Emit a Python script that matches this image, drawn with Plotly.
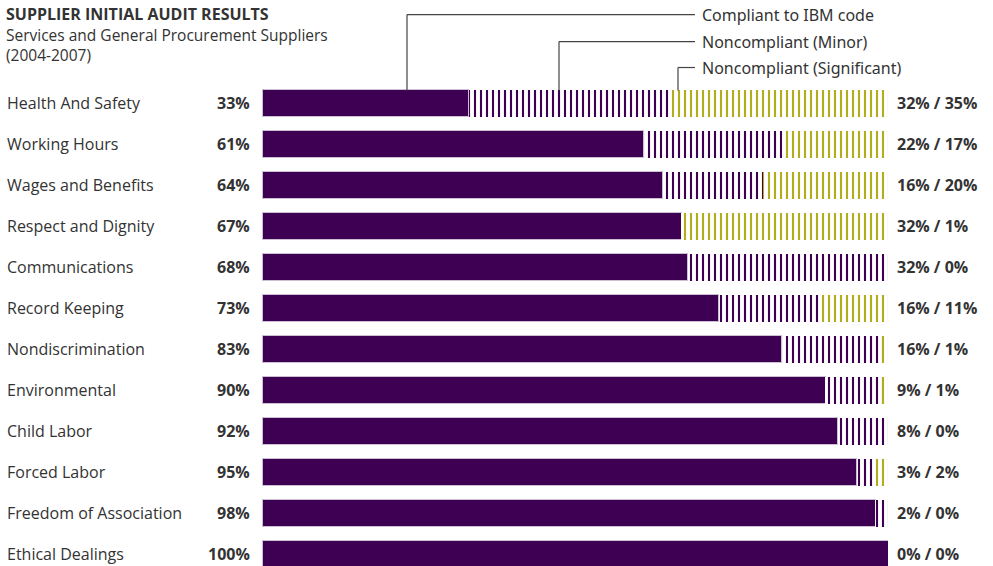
import plotly.graph_objects as go

categories = ["Health And Safety", "Working Hours", "Wages and Benefits", "Respect and Dignity",
              "Communications", "Record Keeping", "Nondiscrimination", "Environmental",
              "Child Labor", "Forced Labor", "Freedom of Association", "Ethical Dealings"]
compliant = [33, 61, 64, 67, 68, 73, 83, 90, 92, 95, 98, 100]
minor = [32, 22, 16, 32, 32, 16, 16, 9, 8, 3, 2, 0]
significant = [35, 17, 20, 1, 0, 11, 1, 1, 0, 2, 0, 0]

PURPLE = "#3d0052"
OLIVE = "#b2ad1c"
TEXT = "#333333"
FONT = "Open Sans"

# in the original, the minor segment of "Respect and Dignity" is drawn in olive
minor_colors = [OLIVE if c == "Respect and Dignity" else PURPLE for c in categories]

fig = go.Figure()
fig.add_trace(go.Bar(y=categories, x=compliant, orientation="h", name="Compliant to IBM code",
                     marker=dict(color=PURPLE, line=dict(color="#cbbfd3", width=1))))
fig.add_trace(go.Bar(y=categories, x=minor, orientation="h", name="Noncompliant (Minor)",
                     marker=dict(color=PURPLE, line=dict(width=0),
                                 pattern=dict(shape="|", fillmode="replace", bgcolor="white",
                                              fgcolor=minor_colors, size=6, solidity=0.35))))
fig.add_trace(go.Bar(y=categories, x=significant, orientation="h", name="Noncompliant (Significant)",
                     marker=dict(color=OLIVE, line=dict(width=0),
                                 pattern=dict(shape="|", fillmode="replace", bgcolor="white",
                                              fgcolor=OLIVE, size=6, solidity=0.35))))

W, H = 993, 566
L, R, T, B = 262, 993 - 888, 82.5, 0
pw, ph = W - L - R, H - T - B


def px(xp):
    return (xp - L) / pw


def py(yp):
    return (H - B - yp) / ph


ann = []
for c, v, m, s in zip(categories, compliant, minor, significant):
    ann.append(dict(x=px(5), y=c, xref="paper", yref="y", text=c, xanchor="left",
                    showarrow=False, font=dict(size=16, color=TEXT, family=FONT)))
    ann.append(dict(x=px(252), y=c, xref="paper", yref="y", text=f"<b>{v}%</b>", xanchor="right",
                    showarrow=False, font=dict(size=16, color=TEXT, family=FONT)))
    ann.append(dict(x=px(895), y=c, xref="paper", yref="y", text=f"<b>{m}% / {s}%</b>",
                    xanchor="left", showarrow=False, font=dict(size=16, color=TEXT, family=FONT)))


def note(text, x, y, size=16, family=FONT):
    ann.append(dict(x=px(x), y=py(y), xref="paper", yref="paper", text=text, xanchor="left",
                    yanchor="middle", showarrow=False, font=dict(size=size, color=TEXT, family=family)))


note("<b>SUPPLIER INITIAL AUDIT RESULTS</b>", 4, 13.5)
note("Services and General Procurement Suppliers", 4, 34, 15.5)
note("(2004-2007)", 4, 54, 15.5)

legend_items = [("Compliant to IBM code", 407, 14), ("Noncompliant (Minor)", 559, 41),
                ("Noncompliant (Significant)", 678, 67)]
shapes = []
for label, xl, yl in legend_items:
    note(label, 700, yl, 16, "Noto Sans")
    shapes.append(dict(type="line", xref="paper", yref="paper", x0=px(xl), x1=px(xl),
                       y0=py(90), y1=py(yl), line=dict(color="#444", width=1.2)))
    shapes.append(dict(type="line", xref="paper", yref="paper", x0=px(xl), x1=px(695),
                       y0=py(yl), y1=py(yl), line=dict(color="#444", width=1.2)))

fig.update_layout(
    barmode="stack", bargap=0.34, width=W, height=H,
    margin=dict(l=L, r=R, t=T, b=B, pad=0),
    paper_bgcolor="white", plot_bgcolor="white", showlegend=False,
    xaxis=dict(range=[0, 100], visible=False, fixedrange=True),
    yaxis=dict(range=[(H - 103) / 41, -0.5], visible=False, fixedrange=True),
    annotations=ann, shapes=shapes,
)

# drop the default 8px page margin so the figure fills the window
fig.write_html("out.html", config={"displayModeBar": False},
               post_script="document.body.style.margin='0';")
